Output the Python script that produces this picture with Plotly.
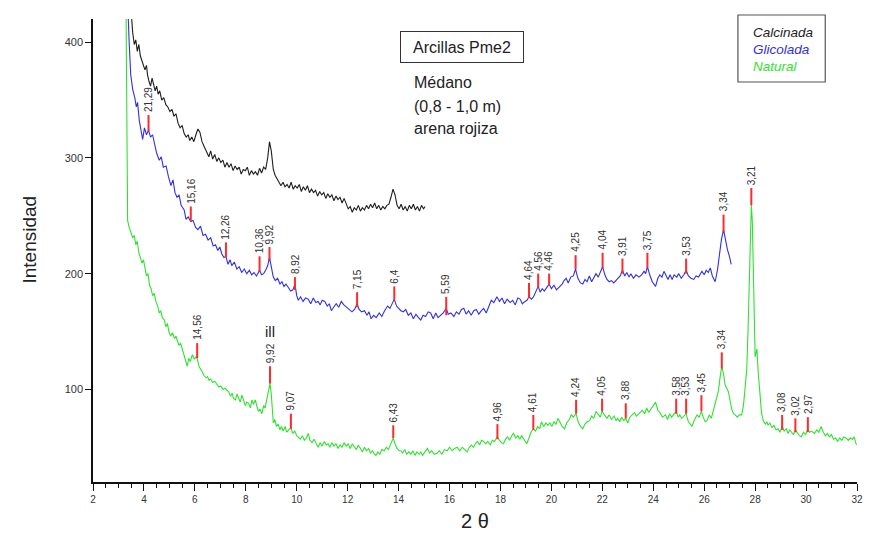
import plotly.graph_objects as go

# difractogramas (2 theta, intensidad)
calcinada_pts = [
    (3.42, 450), (3.50, 420), (3.56, 408), (3.62, 398), (3.68, 402), (3.74, 392), (3.80, 398), (3.86, 388),
    (3.92, 384), (3.98, 380), (4.04, 376), (4.10, 380), (4.14, 372), (4.20, 366), (4.26, 362), (4.32, 369),
    (4.38, 363), (4.44, 358), (4.50, 362), (4.56, 355), (4.62, 358), (4.70, 350), (4.78, 352), (4.86, 346),
    (4.94, 344), (5.02, 340), (5.10, 342), (5.18, 336), (5.26, 338), (5.34, 330), (5.42, 326), (5.50, 328),
    (5.58, 321), (5.66, 318), (5.74, 320), (5.80, 315), (5.88, 318), (5.96, 314), (6.04, 320), (6.12, 325),
    (6.20, 322), (6.28, 314), (6.36, 310), (6.46, 305), (6.55, 301), (6.62, 306), (6.70, 299), (6.78, 303),
    (6.86, 297), (6.94, 300), (7.02, 296), (7.10, 298), (7.18, 292), (7.26, 296), (7.34, 292), (7.42, 295),
    (7.50, 289), (7.58, 293), (7.66, 290), (7.74, 292), (7.82, 286), (7.90, 290), (7.98, 289), (8.06, 292),
    (8.14, 285), (8.22, 289), (8.30, 286), (8.38, 288), (8.46, 285), (8.54, 291), (8.62, 287), (8.70, 292),
    (8.78, 290), (8.86, 300), (8.93, 314), (9.00, 306), (9.08, 290), (9.15, 285), (9.22, 282), (9.30, 279),
    (9.38, 276), (9.46, 279), (9.54, 275), (9.62, 277), (9.70, 274), (9.78, 279), (9.86, 273), (9.94, 276),
    (10.02, 274), (10.10, 277), (10.18, 271), (10.26, 275), (10.34, 272), (10.42, 276), (10.50, 270),
    (10.58, 273), (10.66, 270), (10.74, 272), (10.82, 267), (10.90, 271), (10.98, 268), (11.06, 270),
    (11.14, 265), (11.22, 269), (11.30, 266), (11.38, 268), (11.46, 263), (11.54, 267), (11.62, 264),
    (11.70, 266), (11.78, 261), (11.86, 265), (11.94, 260), (12.02, 256), (12.10, 258), (12.18, 253),
    (12.26, 257), (12.34, 255), (12.42, 259), (12.50, 254), (12.58, 257), (12.66, 255), (12.74, 259),
    (12.82, 256), (12.90, 260), (12.98, 257), (13.06, 261), (13.14, 256), (13.22, 259), (13.30, 255),
    (13.38, 258), (13.46, 256), (13.54, 259), (13.62, 260), (13.70, 266), (13.78, 273), (13.86, 268),
    (13.94, 259), (14.02, 256), (14.10, 260), (14.18, 255), (14.26, 258), (14.34, 254), (14.42, 259),
    (14.50, 256), (14.58, 260), (14.66, 255), (14.74, 258), (14.82, 254), (14.90, 259), (14.98, 256),
    (15.04, 258),
]

glicolada_pts = [
    (3.30, 470), (3.36, 430), (3.42, 400), (3.48, 372), (3.56, 359), (3.64, 352), (3.70, 344), (3.75, 348),
    (3.82, 332), (3.90, 322), (3.95, 316), (4.02, 326), (4.10, 320), (4.18, 324), (4.26, 318), (4.34, 320),
    (4.41, 312), (4.50, 304), (4.60, 298), (4.68, 301), (4.76, 292), (4.87, 293), (4.96, 284), (5.06, 276),
    (5.14, 281), (5.22, 270), (5.30, 266), (5.38, 268), (5.46, 259), (5.58, 255), (5.65, 247), (5.74, 249),
    (5.84, 245), (5.93, 246), (6.03, 240), (6.12, 238), (6.22, 241), (6.32, 233), (6.42, 234), (6.52, 229),
    (6.62, 231), (6.72, 224), (6.81, 225), (6.90, 220), (6.98, 223), (7.06, 217), (7.14, 214), (7.22, 215),
    (7.30, 208), (7.38, 212), (7.45, 207), (7.55, 210), (7.65, 204), (7.74, 206), (7.84, 201), (7.94, 204),
    (8.04, 200), (8.14, 203), (8.23, 199), (8.32, 201), (8.42, 198), (8.48, 200), (8.54, 203), (8.62, 199),
    (8.70, 200), (8.78, 203), (8.86, 207), (8.93, 214), (9.00, 205), (9.08, 197), (9.16, 194), (9.25, 196),
    (9.34, 191), (9.42, 193), (9.50, 189), (9.58, 191), (9.67, 188), (9.76, 185), (9.85, 186), (9.93, 191),
    (10.00, 181), (10.06, 177), (10.15, 180), (10.25, 176), (10.35, 179), (10.45, 178), (10.55, 174),
    (10.65, 179), (10.75, 175), (10.84, 176), (10.92, 173), (11.00, 177), (11.10, 176), (11.20, 172),
    (11.28, 174), (11.36, 168), (11.45, 171), (11.55, 174), (11.65, 171), (11.75, 176), (11.85, 173),
    (11.95, 171), (12.07, 169), (12.17, 167), (12.27, 169), (12.37, 174), (12.45, 169), (12.55, 167),
    (12.66, 168), (12.76, 164), (12.84, 167), (12.92, 161), (13.02, 164), (13.12, 162), (13.24, 166),
    (13.34, 163), (13.45, 168), (13.57, 172), (13.66, 170), (13.75, 174), (13.83, 178), (13.92, 172),
    (14.00, 170), (14.09, 168), (14.18, 167), (14.28, 169), (14.38, 164), (14.48, 166), (14.58, 161),
    (14.68, 165), (14.78, 162), (14.87, 160), (14.96, 164), (15.06, 163), (15.16, 167), (15.26, 166),
    (15.36, 161), (15.46, 166), (15.55, 162), (15.65, 164), (15.75, 166), (15.87, 170), (15.95, 165),
    (16.05, 166), (16.17, 163), (16.27, 167), (16.37, 165), (16.47, 169), (16.56, 170), (16.65, 165),
    (16.75, 168), (16.85, 164), (16.95, 168), (17.05, 169), (17.15, 165), (17.25, 168), (17.34, 170),
    (17.44, 166), (17.54, 172), (17.64, 177), (17.74, 175), (17.86, 180), (17.96, 176), (18.06, 179),
    (18.16, 174), (18.26, 178), (18.38, 175), (18.48, 177), (18.58, 173), (18.68, 179), (18.77, 178),
    (18.86, 174), (18.96, 176), (19.04, 177), (19.12, 180), (19.22, 178), (19.30, 180), (19.40, 186),
    (19.48, 189), (19.56, 184), (19.64, 187), (19.72, 185), (19.82, 188), (19.91, 191), (20.00, 187),
    (20.10, 190), (20.20, 186), (20.32, 189), (20.42, 191), (20.50, 194), (20.58, 196), (20.66, 192),
    (20.76, 197), (20.86, 198), (20.95, 204), (21.04, 196), (21.14, 192), (21.23, 191), (21.32, 195),
    (21.40, 193), (21.49, 198), (21.58, 193), (21.66, 196), (21.75, 200), (21.84, 197), (21.92, 202),
    (22.01, 206), (22.10, 199), (22.18, 195), (22.27, 193), (22.36, 194), (22.45, 192), (22.53, 194),
    (22.62, 196), (22.70, 198), (22.79, 203), (22.88, 198), (22.96, 201), (23.05, 197), (23.12, 200),
    (23.22, 196), (23.32, 199), (23.44, 197), (23.54, 199), (23.64, 202), (23.70, 200), (23.77, 206),
    (23.86, 199), (23.96, 193), (24.09, 189), (24.18, 196), (24.26, 199), (24.34, 197), (24.42, 202),
    (24.50, 198), (24.58, 195), (24.66, 199), (24.74, 195), (24.82, 199), (24.92, 197), (25.00, 200),
    (25.10, 196), (25.20, 199), (25.29, 203), (25.38, 198), (25.48, 196), (25.59, 195), (25.68, 198),
    (25.78, 197), (25.91, 202), (26.00, 199), (26.08, 203), (26.16, 201), (26.24, 205), (26.32, 198),
    (26.43, 193), (26.52, 203), (26.60, 218), (26.68, 230), (26.76, 238), (26.84, 228), (26.91, 221),
    (26.99, 215), (27.06, 208),
]

natural_pts = [
    (3.28, 480), (3.30, 400), (3.32, 320), (3.34, 270), (3.36, 246), (3.42, 240), (3.48, 236), (3.56, 231),
    (3.62, 233), (3.68, 225), (3.74, 228), (3.80, 218), (3.86, 214), (3.92, 209), (3.98, 212), (4.04, 203),
    (4.10, 198), (4.16, 200), (4.22, 190), (4.28, 187), (4.34, 181), (4.40, 183), (4.47, 176), (4.54, 172),
    (4.60, 166), (4.66, 168), (4.72, 162), (4.80, 160), (4.86, 154), (4.92, 157), (4.98, 150), (5.05, 146),
    (5.12, 149), (5.20, 144), (5.26, 146), (5.31, 142), (5.38, 138), (5.44, 140), (5.51, 134), (5.58, 128),
    (5.64, 123), (5.70, 120), (5.76, 127), (5.82, 124), (5.90, 130), (5.98, 126), (6.04, 128), (6.09, 127),
    (6.16, 120), (6.22, 117), (6.29, 115), (6.36, 112), (6.44, 110), (6.50, 111), (6.55, 108), (6.62, 109),
    (6.70, 106), (6.78, 107), (6.86, 104), (6.94, 102), (7.02, 103), (7.10, 100), (7.18, 101), (7.26, 99),
    (7.33, 98), (7.40, 94), (7.46, 97), (7.52, 92), (7.59, 91), (7.66, 96), (7.72, 93), (7.78, 89),
    (7.85, 95), (7.92, 90), (7.98, 86), (8.04, 89), (8.11, 88), (8.18, 84), (8.24, 91), (8.30, 87),
    (8.37, 91), (8.44, 85), (8.50, 81), (8.56, 83), (8.63, 79), (8.70, 86), (8.76, 84), (8.82, 91),
    (8.88, 98), (8.95, 105), (9.00, 96), (9.04, 80), (9.08, 71), (9.14, 74), (9.20, 68), (9.27, 70),
    (9.34, 65), (9.40, 68), (9.47, 64), (9.54, 68), (9.61, 63), (9.68, 65), (9.77, 67), (9.84, 62),
    (9.92, 64), (10.00, 60), (10.06, 59), (10.14, 57), (10.22, 60), (10.30, 56), (10.38, 58), (10.45, 62),
    (10.52, 56), (10.60, 54), (10.68, 57), (10.76, 53), (10.84, 50), (10.92, 54), (11.00, 51), (11.08, 55),
    (11.16, 52), (11.23, 53), (11.30, 50), (11.38, 54), (11.46, 51), (11.54, 53), (11.62, 49), (11.70, 52),
    (11.78, 50), (11.86, 54), (11.94, 51), (12.02, 53), (12.10, 49), (12.18, 53), (12.26, 50), (12.34, 48),
    (12.42, 52), (12.50, 49), (12.58, 46), (12.66, 50), (12.74, 47), (12.82, 49), (12.90, 45), (12.98, 47),
    (13.05, 44), (13.11, 43), (13.18, 46), (13.26, 44), (13.34, 48), (13.44, 47), (13.52, 50), (13.60, 48),
    (13.68, 52), (13.74, 55), (13.79, 58), (13.86, 53), (13.94, 49), (14.02, 47), (14.09, 47), (14.16, 45),
    (14.24, 48), (14.32, 44), (14.40, 46), (14.48, 44), (14.56, 47), (14.64, 43), (14.72, 46), (14.80, 44),
    (14.87, 46), (14.94, 43), (15.02, 46), (15.13, 49), (15.22, 45), (15.30, 47), (15.40, 44), (15.52, 45),
    (15.60, 47), (15.70, 44), (15.80, 48), (15.91, 47), (16.00, 50), (16.10, 47), (16.20, 49), (16.30, 50),
    (16.40, 47), (16.50, 50), (16.60, 48), (16.69, 46), (16.78, 50), (16.86, 52), (16.94, 50), (17.01, 53),
    (17.10, 55), (17.18, 52), (17.26, 56), (17.34, 55), (17.42, 53), (17.50, 55), (17.60, 52), (17.68, 56),
    (17.76, 55), (17.88, 59), (17.96, 56), (18.04, 54), (18.12, 53), (18.20, 57), (18.28, 59), (18.36, 56),
    (18.44, 60), (18.51, 62), (18.60, 58), (18.68, 60), (18.76, 57), (18.83, 60), (18.92, 57), (19.03, 53),
    (19.12, 58), (19.20, 63), (19.29, 66), (19.38, 64), (19.46, 68), (19.54, 66), (19.61, 72), (19.70, 68),
    (19.78, 71), (19.86, 69), (19.94, 71), (20.02, 68), (20.10, 72), (20.18, 70), (20.26, 75), (20.34, 71),
    (20.42, 68), (20.52, 66), (20.60, 71), (20.70, 74), (20.78, 78), (20.86, 76), (20.97, 79), (21.05, 72),
    (21.14, 68), (21.23, 66), (21.32, 70), (21.40, 72), (21.50, 73), (21.58, 77), (21.66, 75), (21.75, 81),
    (21.84, 78), (21.92, 76), (21.99, 81), (22.08, 78), (22.18, 75), (22.27, 78), (22.36, 74), (22.46, 77),
    (22.54, 73), (22.60, 75), (22.68, 72), (22.76, 76), (22.84, 73), (22.92, 75), (23.00, 71), (23.08, 76),
    (23.18, 78), (23.26, 80), (23.34, 77), (23.42, 79), (23.50, 81), (23.57, 82), (23.66, 79), (23.74, 84),
    (23.82, 80), (23.90, 83), (23.98, 86), (24.09, 89), (24.18, 82), (24.26, 80), (24.36, 76), (24.48, 78),
    (24.56, 74), (24.64, 79), (24.72, 76), (24.80, 78), (24.90, 81), (24.98, 76), (25.04, 78), (25.11, 75),
    (25.20, 77), (25.29, 79), (25.38, 72), (25.45, 70), (25.52, 68), (25.60, 73), (25.66, 75), (25.72, 78),
    (25.80, 76), (25.89, 81), (25.96, 76), (26.04, 72), (26.11, 73), (26.20, 78), (26.28, 75), (26.37, 82),
    (26.46, 89), (26.56, 99), (26.62, 110), (26.69, 120), (26.76, 113), (26.82, 104), (26.88, 101),
    (26.95, 98), (27.02, 90), (27.08, 83), (27.15, 79), (27.22, 78), (27.30, 76), (27.38, 78), (27.47, 78),
    (27.54, 86), (27.60, 100), (27.67, 117), (27.72, 150), (27.77, 200), (27.81, 240), (27.85, 259),
    (27.89, 245), (27.93, 200), (27.97, 150), (28.00, 128), (28.04, 132), (28.07, 135), (28.12, 115),
    (28.19, 94), (28.25, 80), (28.32, 73), (28.40, 70), (28.46, 72), (28.51, 69), (28.58, 71), (28.66, 67),
    (28.74, 69), (28.82, 65), (28.90, 66), (28.98, 63), (29.06, 68), (29.14, 64), (29.22, 66), (29.29, 62),
    (29.36, 65), (29.44, 63), (29.50, 61), (29.58, 65), (29.66, 62), (29.74, 60), (29.81, 59), (29.90, 63),
    (29.98, 61), (30.07, 66), (30.14, 63), (30.22, 64), (30.33, 62), (30.42, 65), (30.50, 63), (30.59, 68),
    (30.68, 63), (30.76, 60), (30.84, 62), (30.92, 59), (31.00, 61), (31.08, 57), (31.16, 58), (31.24, 55),
    (31.32, 58), (31.40, 56), (31.48, 59), (31.57, 58), (31.66, 56), (31.74, 58), (31.82, 57), (31.89, 59),
    (31.96, 53), (32.00, 52),
]

# picos marcados: posicion 2 theta, base, tope de la marca roja, espaciado d
gli_peak_x = [4.18, 5.84, 7.22, 8.54, 8.93, 9.93, 12.37, 13.83, 15.87, 19.12, 19.48, 19.91,
              20.95, 22.01, 22.79, 23.77, 25.29, 26.76]
gli_peak_base = [323, 245, 214, 202, 212, 186, 171, 177, 164, 179, 188, 190, 204, 205, 200, 205, 200, 236]
gli_peak_top = [337, 258, 227, 215, 223, 197, 184, 189, 180, 192, 200, 200, 216, 218, 213, 218, 213, 251]
gli_peak_lbl = ["21,29", "15,16", "12,26", "10,36", "9,92", "8,92", "7,15", "6,4", "5,59", "4,64",
                "4,56", "4,46", "4,25", "4,04", "3,91", "3,75", "3,53", "3,34"]

nat_peak_x = [6.09, 8.95, 9.77, 13.79, 17.88, 19.29, 20.97, 21.99, 22.92, 24.90, 25.29, 25.89,
              26.69, 27.85, 29.06, 29.58, 30.07]
nat_peak_base = [127, 105, 66, 58, 57, 65, 79, 81, 75, 79, 79, 81, 118, 259, 65, 63, 63]
nat_peak_top = [140, 120, 79, 69, 70, 78, 91, 92, 88, 92, 92, 95, 132, 274, 78, 75, 76]
nat_peak_lbl = ["14,56", "9,92", "9,07", "6,43", "4,96", "4,61", "4,24", "4,05", "3,88", "3,58",
                "3,53", "3,45", "3,34", "3,21", "3,08", "3,02", "2,97"]

series = [
    ("Calcinada", calcinada_pts, "#1e1e1e"),
    ("Glicolada", glicolada_pts, "#3030e6"),
    ("Natural", natural_pts, "#2fe22f"),
]

FONT = "Liberation Sans, Arial, sans-serif"
# la pagina deja 8 px de margen en el body: la figura se achica para caber en la ventana
PAGE = 8
W, H = 873 - PAGE, 546 - PAGE
L, R, T, B = 93 - PAGE, 10, 19 - PAGE, 64


def px_x(px):
    # pixel de la ventana -> coordenada paper
    return (px - PAGE - L) / (W - L - R)


def px_y(py):
    return (H - B - (py - PAGE)) / (H - T - B)


fig = go.Figure()

for name, pts, color in series:
    xs, ys = zip(*pts)
    fig.add_trace(go.Scatter(x=xs, y=ys, mode="lines", name=name,
                             line=dict(color=color, width=1.1), showlegend=False))

# marcas rojas de los picos
mx, my = [], []
for px_, b, t in zip(gli_peak_x + nat_peak_x, gli_peak_base + nat_peak_base, gli_peak_top + nat_peak_top):
    mx += [px_, px_, None]
    my += [b, t, None]
fig.add_trace(go.Scatter(x=mx, y=my, mode="lines", line=dict(color="#ff2a2a", width=2),
                         showlegend=False, hoverinfo="skip"))

annotations = []
for x, t, lbl in zip(gli_peak_x + nat_peak_x, gli_peak_top + nat_peak_top, gli_peak_lbl + nat_peak_lbl):
    annotations.append(dict(x=x, y=t, text=lbl, textangle=-90, showarrow=False,
                            xanchor="center", yanchor="bottom", yshift=1,
                            font=dict(family=FONT, size=10, color="#333")))

annotations.append(dict(x=8.95, y=150, text="ill", showarrow=False, xanchor="center", yanchor="middle",
                        font=dict(family=FONT, size=15, color="#222")))

# cuadro de titulo y descripcion
annotations.append(dict(xref="paper", yref="paper", x=px_x(465), y=px_y(47), text="Arcillas Pme2",
                        showarrow=False, xanchor="center", yanchor="middle",
                        width=110, height=18, borderpad=6,
                        bordercolor="#333", borderwidth=1, bgcolor="white",
                        font=dict(family=FONT, size=16, color="#222")))
for py, line in zip([82, 106, 129], ["Médano", "(0,8 - 1,0 m)", "arena rojiza"]):
    annotations.append(dict(xref="paper", yref="paper", x=px_x(415), y=px_y(py), text=line,
                            showarrow=False, xanchor="left", yanchor="middle",
                            font=dict(family=FONT, size=16, color="#222")))

# leyenda
for py, (name, _, color) in zip([32, 49, 66], series):
    annotations.append(dict(xref="paper", yref="paper", x=px_x(756), y=px_y(py),
                            text="<i>%s</i>" % name, showarrow=False, xanchor="left", yanchor="middle",
                            font=dict(family=FONT, size=13.5, color=color)))

# titulos de ejes
annotations.append(dict(xref="paper", yref="paper", x=px_x(28), y=px_y(240), text="Intensidad",
                        textangle=-90, showarrow=False, xanchor="center", yanchor="middle",
                        font=dict(family=FONT, size=19, color="#222")))
annotations.append(dict(xref="paper", yref="paper", x=px_x(478), y=px_y(521), text="2 θ",
                        showarrow=False, xanchor="center", yanchor="middle",
                        font=dict(family=FONT, size=20, color="#222")))

fig.update_layout(
    width=W, height=H,
    margin=dict(l=L, r=R, t=T, b=B),
    paper_bgcolor="white", plot_bgcolor="white",
    annotations=annotations,
    shapes=[dict(type="rect", xref="paper", yref="paper",
                 x0=px_x(743), x1=px_x(831), y0=px_y(82), y1=px_y(15),
                 line=dict(color="#555", width=1.2))],
    xaxis=dict(range=[2, 32], tick0=2, dtick=2, showgrid=False, zeroline=False,
               showline=True, linecolor="#111", linewidth=1.5,
               ticks="outside", ticklen=7, tickwidth=1.3, tickcolor="#111",
               minor=dict(dtick=0.5, ticks="outside", ticklen=4, tickcolor="#111", showgrid=False),
               tickfont=dict(family=FONT, size=10, color="#333")),
    yaxis=dict(range=[20, 420], tickvals=[100, 200, 300, 400], showgrid=False, zeroline=False,
               showline=True, linecolor="#111", linewidth=1.5,
               ticks="outside", ticklen=6, tickwidth=1.3, tickcolor="#111",
               tickfont=dict(family=FONT, size=11, color="#333")),
)

fig.write_html("out.html")
